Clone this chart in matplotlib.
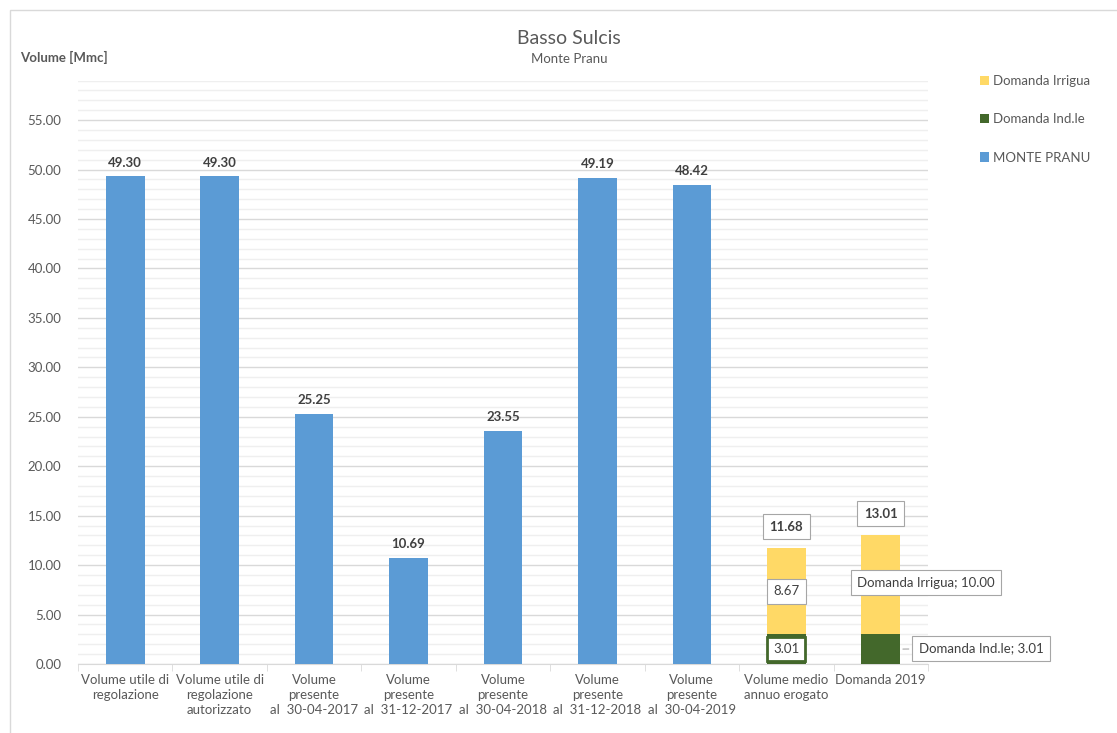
import matplotlib.pyplot as plt
from matplotlib.patches import Rectangle
from matplotlib.ticker import MultipleLocator, FormatStrFormatter

plt.rcParams['font.family'] = ['Lato', 'DejaVu Sans']

categories = [
    "Volume utile di\nregolazione",
    "Volume utile di\nregolazione\nautorizzato",
    "Volume\npresente\nal  30-04-2017",
    "Volume\npresente\nal  31-12-2017",
    "Volume\npresente\nal  30-04-2018",
    "Volume\npresente\nal  31-12-2018",
    "Volume\npresente\nal  30-04-2019",
    "Volume medio\nannuo erogato",
    "Domanda 2019",
]
monte_pranu = [49.30, 49.30, 25.25, 10.69, 23.55, 49.19, 48.42]
domanda_ind = [3.01, 3.01]
domanda_irr = [8.67, 10.00]

BLUE = "#5B9BD5"
YELLOW = "#FFD966"
GREEN = "#43682B"
GRAY = "#595959"
FS = 9.5

fig = plt.figure(figsize=(11.17, 7.33), dpi=100)
fig.patches.append(Rectangle((10 / 1117, -0.1), 1.2, (733 - 10) / 733 + 0.1,
                             transform=fig.transFigure, fill=False,
                             edgecolor="#D9D9D9", lw=1))
ax = fig.add_axes([78 / 1117, 1 - 664 / 733, (928 - 78) / 1117, (664 - 80.5) / 733])

w = 0.41
x_blue = list(range(len(monte_pranu)))
ax.bar(x_blue, monte_pranu, w, color=BLUE, zorder=3, label="MONTE PRANU")
x_stack = [7, 8]
ax.bar(x_stack, domanda_ind, w, color=GREEN, zorder=3, label="Domanda Ind.le")
ax.bar(x_stack, domanda_irr, w, bottom=domanda_ind, color=YELLOW, zorder=3,
       label="Domanda Irrigua")

for x, v in zip(x_blue, monte_pranu):
    ax.text(x, v + 0.8, f"{v:.2f}", ha="center", va="bottom", fontsize=FS,
            fontweight="bold", color="#404040")

box = dict(boxstyle="square,pad=0.5", fc="white", ec="#A6A6A6", lw=0.8)
for x, a, b in zip(x_stack, domanda_ind, domanda_irr):
    ax.text(x, a + b + 1.6, f"{a + b:.2f}", ha="center", va="bottom", fontsize=FS,
            fontweight="bold", color="#404040", bbox=box, zorder=5)

# labels inside the first stacked bar
ax.text(7, domanda_ind[0] / 2, f"{domanda_ind[0]:.2f}", ha="center", va="center",
        fontsize=FS, color="#404040", zorder=5,
        bbox=dict(boxstyle="square,pad=0.45", fc="white", ec=GREEN, lw=2))
ax.text(7, domanda_ind[0] + domanda_irr[0] / 2, f"{domanda_irr[0]:.2f}",
        ha="center", va="center", fontsize=FS, color="#404040", bbox=box, zorder=5)

# callouts on the second stacked bar
ax.text(7.75, domanda_ind[1] + 5.2, f"Domanda Irrigua; {domanda_irr[1]:.2f}",
        ha="left", va="center", fontsize=FS, color="#404040", bbox=box, zorder=5)
ax.annotate(f"Domanda Ind.le; {domanda_ind[1]:.2f}", xy=(8 + w / 2, domanda_ind[1] / 2),
            xytext=(8.4, domanda_ind[1] / 2 + 0.1), ha="left", va="center",
            fontsize=FS, color="#404040", bbox=box, zorder=5,
            arrowprops=dict(arrowstyle="-", color="#A6A6A6", lw=0.8),
            annotation_clip=False)

ax.set_xlim(-0.5, 8.5)
ax.set_ylim(0, 59)
ax.yaxis.set_major_locator(MultipleLocator(5))
ax.yaxis.set_minor_locator(MultipleLocator(1))
ax.yaxis.set_major_formatter(FormatStrFormatter("%.2f"))
ax.grid(axis="y", which="major", color="#D9D9D9", lw=1, zorder=0)
ax.grid(axis="y", which="minor", color="#EFEFEF", lw=1, zorder=0)
ax.set_axisbelow(True)

ax.set_xticks(range(len(categories)))
ax.set_xticklabels(categories, fontsize=FS, color=GRAY, linespacing=1.3)
ax.set_xticks([i - 0.5 for i in range(len(categories) + 1)], minor=True)
ax.tick_params(axis="x", which="major", length=0, pad=7)
ax.tick_params(axis="x", which="minor", length=5, color="#D9D9D9")
ax.tick_params(axis="y", which="both", length=0, labelsize=FS, labelcolor=GRAY, pad=12)

for s in ["top", "right", "left"]:
    ax.spines[s].set_visible(False)
ax.spines["bottom"].set_color("#D9D9D9")

fig.text(569 / 1117, 1 - 38 / 733, "Basso Sulcis", ha="center", va="center",
         fontsize=14, color=GRAY)
fig.text(569 / 1117, 1 - 59 / 733, "Monte Pranu", ha="center", va="center",
         fontsize=FS, color=GRAY)
fig.text(20 / 1117, 1 - 57 / 733, "Volume [Mmc]", ha="left", va="center",
         fontsize=FS, fontweight="bold", color=GRAY)

handles, labels = ax.get_legend_handles_labels()
order = [2, 1, 0]
fig.legend([handles[i] for i in order], [labels[i] for i in order],
           loc="upper left", bbox_to_anchor=(968 / 1117, 1 - 63 / 733),
           frameon=False, fontsize=FS, labelcolor=GRAY, handlelength=0.7,
           handleheight=0.7, handletextpad=0.3, labelspacing=2.0)

fig.savefig("out.png", dpi=100)
